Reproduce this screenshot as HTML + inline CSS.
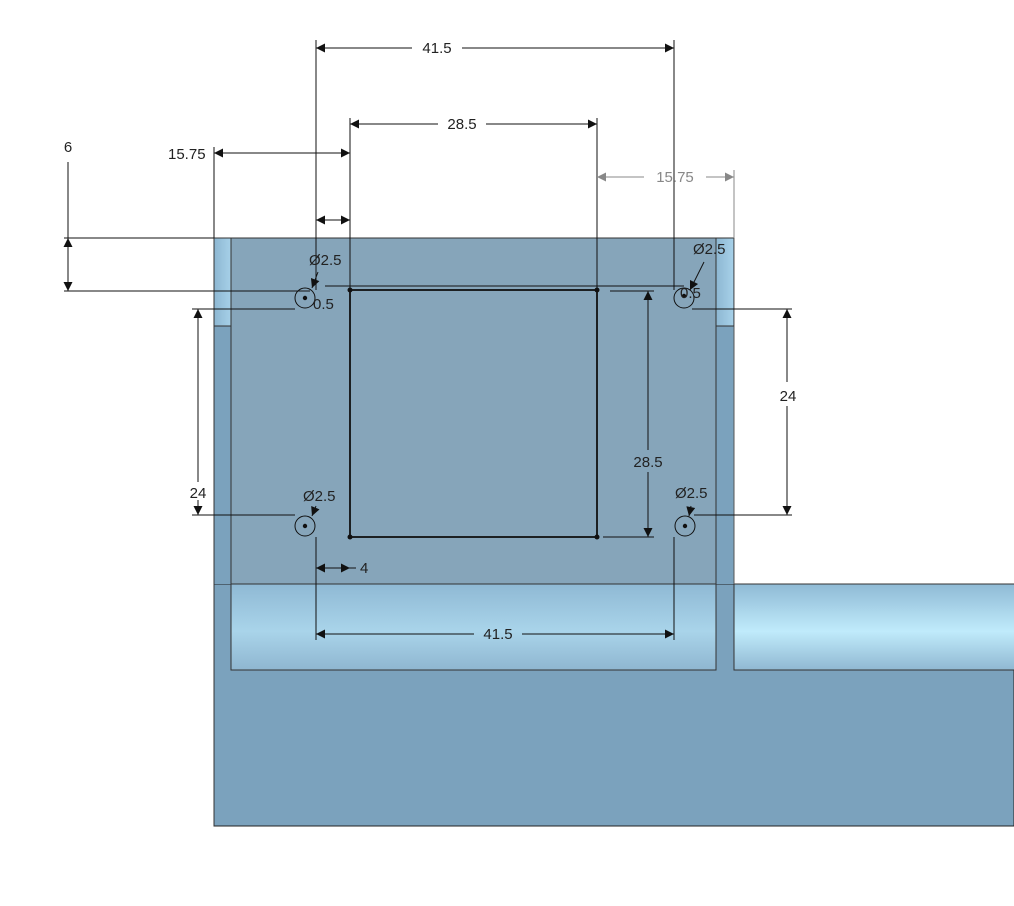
<!DOCTYPE html>
<html><head><style>html,body{margin:0;padding:0;background:#fff}svg{display:block}text{font-family:"Liberation Sans",sans-serif;font-size:15px;fill:#222}</style></head><body>
<svg width="1014" height="906" viewBox="0 0 1014 906" xmlns="http://www.w3.org/2000/svg">
<defs>
<marker id="a" viewBox="0 0 10 10" refX="10" refY="5" markerWidth="18" markerHeight="9" markerUnits="userSpaceOnUse" orient="auto-start-reverse"><path d="M0,0L10,5L0,10z" fill="#111"/></marker>
<marker id="g" viewBox="0 0 10 10" refX="10" refY="5" markerWidth="18" markerHeight="9" markerUnits="userSpaceOnUse" orient="auto-start-reverse"><path d="M0,0L10,5L0,10z" fill="#888"/></marker>
<linearGradient id="tube" x1="0" y1="0" x2="0" y2="1"><stop offset="0" stop-color="#8fb9d4"/><stop offset="0.55" stop-color="#a9d4ea"/><stop offset="1" stop-color="#8fb6d0"/></linearGradient>
<linearGradient id="tube2" x1="0" y1="0" x2="0" y2="1"><stop offset="0" stop-color="#8fbad5"/><stop offset="0.55" stop-color="#c0ebfb"/><stop offset="1" stop-color="#90b8d2"/></linearGradient>
<linearGradient id="strip" x1="0" y1="0" x2="1" y2="0"><stop offset="0" stop-color="#8db7d2"/><stop offset="1" stop-color="#a6d0e8"/></linearGradient>
</defs>
<rect x="214" y="584" width="800" height="242" fill="#7ba2bd" stroke="#222" stroke-width="1"/>
<rect x="214" y="238" width="520" height="346" fill="#7ba2bd"/>
<rect x="214" y="238" width="17" height="88" fill="url(#strip)"/>
<rect x="716" y="238" width="17" height="88" fill="url(#strip)"/>
<rect x="231" y="238" width="485" height="346" fill="#86a5ba" stroke="#333" stroke-width="1"/>
<rect x="231" y="584" width="485" height="86" fill="url(#tube)" stroke="#333" stroke-width="1"/>
<rect x="734" y="584" width="290" height="86" fill="url(#tube2)" stroke="#333" stroke-width="1"/>
<line x1="214" y1="238" x2="734" y2="238" stroke="#333"/>
<line x1="214" y1="238" x2="214" y2="826" stroke="#333"/>
<line x1="734" y1="238" x2="734" y2="584" stroke="#555"/>
<line x1="214" y1="326" x2="231" y2="326" stroke="#333"/>
<line x1="716" y1="326" x2="734" y2="326" stroke="#333"/>
<g stroke="#111" stroke-width="1" fill="none">
<rect x="350" y="290" width="247" height="247" stroke-width="1.8"/>
<line x1="325" y1="286" x2="684" y2="286"/>
<circle cx="305" cy="298" r="10"/><circle cx="684" cy="298" r="10"/>
<circle cx="305" cy="526" r="10"/><circle cx="685" cy="526" r="10"/>
<line x1="316" y1="40" x2="316" y2="290"/><line x1="674" y1="40" x2="674" y2="290"/>
<line x1="350" y1="118" x2="350" y2="290"/><line x1="597" y1="118" x2="597" y2="290"/>
<line x1="214" y1="147" x2="214" y2="238"/>
<line x1="64" y1="238" x2="214" y2="238"/><line x1="64" y1="291" x2="310" y2="291"/>
<line x1="192" y1="309" x2="295" y2="309"/><line x1="192" y1="515" x2="295" y2="515"/>
<line x1="692" y1="309" x2="792" y2="309"/><line x1="694" y1="515" x2="792" y2="515"/>
<line x1="603" y1="537" x2="654" y2="537"/><line x1="610" y1="291" x2="654" y2="291"/>
<line x1="316" y1="537" x2="316" y2="640"/><line x1="674" y1="537" x2="674" y2="640"/>
<line x1="316" y1="48" x2="412" y2="48" marker-start="url(#a)"/><line x1="462" y1="48" x2="674" y2="48" marker-end="url(#a)"/>
<line x1="350" y1="124" x2="438" y2="124" marker-start="url(#a)"/><line x1="486" y1="124" x2="597" y2="124" marker-end="url(#a)"/>
<line x1="214" y1="153" x2="350" y2="153" marker-start="url(#a)" marker-end="url(#a)"/>
<line x1="316" y1="220" x2="350" y2="220" marker-start="url(#a)" marker-end="url(#a)"/>
<line x1="68" y1="162" x2="68" y2="238"/>
<line x1="68" y1="238" x2="68" y2="291" marker-start="url(#a)" marker-end="url(#a)"/>
<line x1="198" y1="309" x2="198" y2="482" marker-start="url(#a)"/><line x1="198" y1="500" x2="198" y2="515" marker-end="url(#a)"/>
<line x1="787" y1="309" x2="787" y2="382" marker-start="url(#a)"/><line x1="787" y1="406" x2="787" y2="515" marker-end="url(#a)"/>
<line x1="648" y1="291" x2="648" y2="450" marker-start="url(#a)"/><line x1="648" y1="472" x2="648" y2="537" marker-end="url(#a)"/>
<line x1="316" y1="568" x2="350" y2="568" marker-start="url(#a)" marker-end="url(#a)"/><line x1="350" y1="568" x2="356" y2="568"/>
<line x1="316" y1="634" x2="474" y2="634" marker-start="url(#a)"/><line x1="522" y1="634" x2="674" y2="634" marker-end="url(#a)"/>
<line x1="318" y1="272" x2="312" y2="288" marker-end="url(#a)"/>
<line x1="704" y1="262" x2="690" y2="290" marker-end="url(#a)"/>
<line x1="316" y1="506" x2="312" y2="516" marker-end="url(#a)"/>
<line x1="691" y1="506" x2="689" y2="516" marker-end="url(#a)"/>
</g>
<g stroke="#888" fill="none">
<line x1="734" y1="170" x2="734" y2="238"/>
<line x1="597" y1="177" x2="644" y2="177" marker-start="url(#g)"/><line x1="706" y1="177" x2="734" y2="177" marker-end="url(#g)"/>
</g>
<g fill="#111">
<circle cx="305" cy="298" r="2.2"/><circle cx="684" cy="296" r="2.2"/><circle cx="305" cy="526" r="2.2"/><circle cx="685" cy="526" r="2.2"/>
<circle cx="350" cy="290" r="2.5"/><circle cx="597" cy="290" r="2.5"/><circle cx="350" cy="537" r="2.5"/><circle cx="597" cy="537" r="2.5"/>
</g>
<text x="437" y="53" text-anchor="middle">41.5</text>
<text x="462" y="129" text-anchor="middle">28.5</text>
<text x="168" y="159">15.75</text>
<text x="675" y="182" text-anchor="middle" style="fill:#888">15.75</text>
<text x="68" y="152" text-anchor="middle">6</text>
<text x="309" y="265">Ø2.5</text>
<text x="313" y="309">0.5</text>
<text x="693" y="254">Ø2.5</text>
<text x="680" y="298">0.5</text>
<text x="198" y="498" text-anchor="middle">24</text>
<text x="788" y="401" text-anchor="middle">24</text>
<text x="648" y="467" text-anchor="middle">28.5</text>
<text x="303" y="501">Ø2.5</text>
<text x="675" y="498">Ø2.5</text>
<text x="360" y="573">4</text>
<text x="498" y="639" text-anchor="middle">41.5</text>
</svg>
</body></html>
